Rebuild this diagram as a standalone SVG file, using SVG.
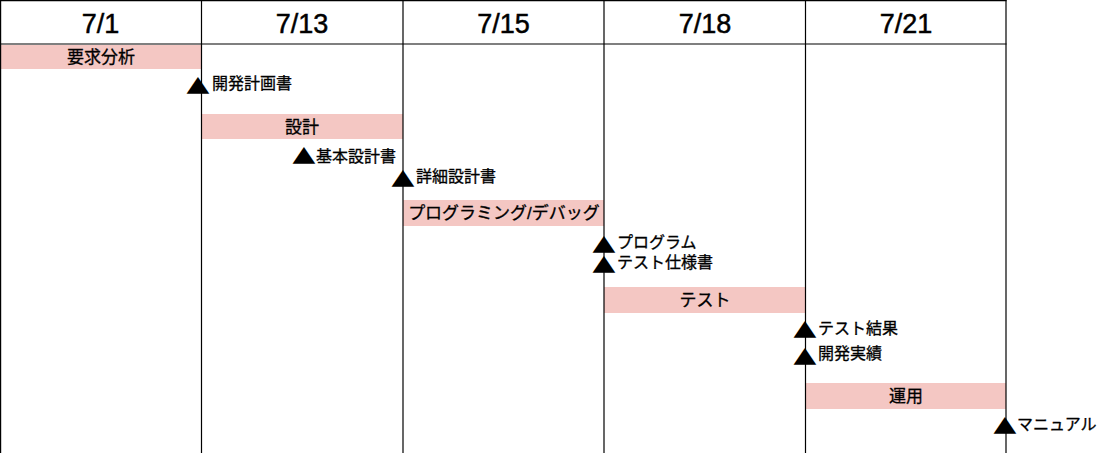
<svg xmlns="http://www.w3.org/2000/svg" width="1103" height="453" viewBox="0 0 1103 453">
<style>
.bg{fill:#ffffff}
.bar{fill:#f4c7c3}
.ln{stroke:#000;stroke-width:1.2;fill:none}
.hd{font-family:"Liberation Sans",Arial,sans-serif;font-size:27px;fill:#000;stroke:#000;stroke-width:0.5;text-anchor:middle}
.bl{font-family:"Liberation Sans","Noto Sans CJK JP",sans-serif;font-size:17px;fill:#000;stroke:#000;stroke-width:0.3;text-anchor:middle}
.ml{font-family:"Liberation Sans","Noto Sans CJK JP",sans-serif;font-size:16px;fill:#000;stroke:#000;stroke-width:0.3}
.tri{font-family:"DejaVu Sans",sans-serif;font-size:22px;fill:#000;text-anchor:middle}
</style>
<rect class="bg" x="0" y="0" width="1103" height="453"/>
<g id="bars">
  <g id="task-youkyu"><rect class="bar" x="1" y="45" width="200.5" height="24"/><text class="bl" x="101" y="63">要求分析</text></g>
  <g id="task-sekkei"><rect class="bar" x="201.5" y="114" width="201.5" height="25"/><text class="bl" x="302" y="133">設計</text></g>
  <g id="task-prog"><rect class="bar" x="403" y="200" width="201" height="26"/><text class="bl" x="504" y="219">プログラミング/デバッグ</text></g>
  <g id="task-test"><rect class="bar" x="604" y="287" width="201.5" height="26"/><text class="bl" x="705" y="306">テスト</text></g>
  <g id="task-unyou"><rect class="bar" x="805.5" y="383" width="200.5" height="26"/><text class="bl" x="906" y="402">運用</text></g>
</g>
<g id="grid">
  <line class="ln" x1="0" y1="0.6" x2="1006.5" y2="0.6"/>
  <line class="ln" x1="0" y1="44" x2="1006.5" y2="44"/>
  <line class="ln" x1="0.6" y1="0" x2="0.6" y2="453"/>
  <line class="ln" x1="201.5" y1="0" x2="201.5" y2="453"/>
  <line class="ln" x1="403" y1="0" x2="403" y2="453"/>
  <line class="ln" x1="604" y1="0" x2="604" y2="453"/>
  <line class="ln" x1="805.5" y1="0" x2="805.5" y2="453"/>
  <line class="ln" x1="1006" y1="0" x2="1006" y2="453"/>
</g>
<g id="headers">
  <text class="hd" x="100.5" y="33">7/1</text>
  <text class="hd" x="302" y="33">7/13</text>
  <text class="hd" x="503.5" y="33">7/15</text>
  <text class="hd" x="705" y="33">7/18</text>
  <text class="hd" x="906" y="33">7/21</text>
</g>
<g id="milestones">
  <g id="ms-kaihatsukeikaku"><text class="tri" transform="translate(198,91) scale(1.35,1)">▲</text><text class="ml" x="212" y="89">開発計画書</text></g>
  <g id="ms-kihonsekkei"><text class="tri" transform="translate(304,161) scale(1.35,1)">▲</text><text class="ml" x="316" y="162">基本設計書</text></g>
  <g id="ms-shousaisekkei"><text class="tri" transform="translate(403,184) scale(1.35,1)">▲</text><text class="ml" x="416" y="182">詳細設計書</text></g>
  <g id="ms-program"><text class="tri" transform="translate(604,250) scale(1.35,1)">▲</text><text class="ml" x="617" y="248">プログラム</text></g>
  <g id="ms-testshiyou"><text class="tri" transform="translate(604,270) scale(1.35,1)">▲</text><text class="ml" x="617" y="268">テスト仕様書</text></g>
  <g id="ms-testkekka"><text class="tri" transform="translate(805,335) scale(1.35,1)">▲</text><text class="ml" x="818" y="334">テスト結果</text></g>
  <g id="ms-kaihatsujisseki"><text class="tri" transform="translate(805,362) scale(1.35,1)">▲</text><text class="ml" x="818" y="359">開発実績</text></g>
  <g id="ms-manual"><text class="tri" transform="translate(1005,431) scale(1.35,1)">▲</text><text class="ml" x="1017" y="430">マニュアル</text></g>
</g>
</svg>
